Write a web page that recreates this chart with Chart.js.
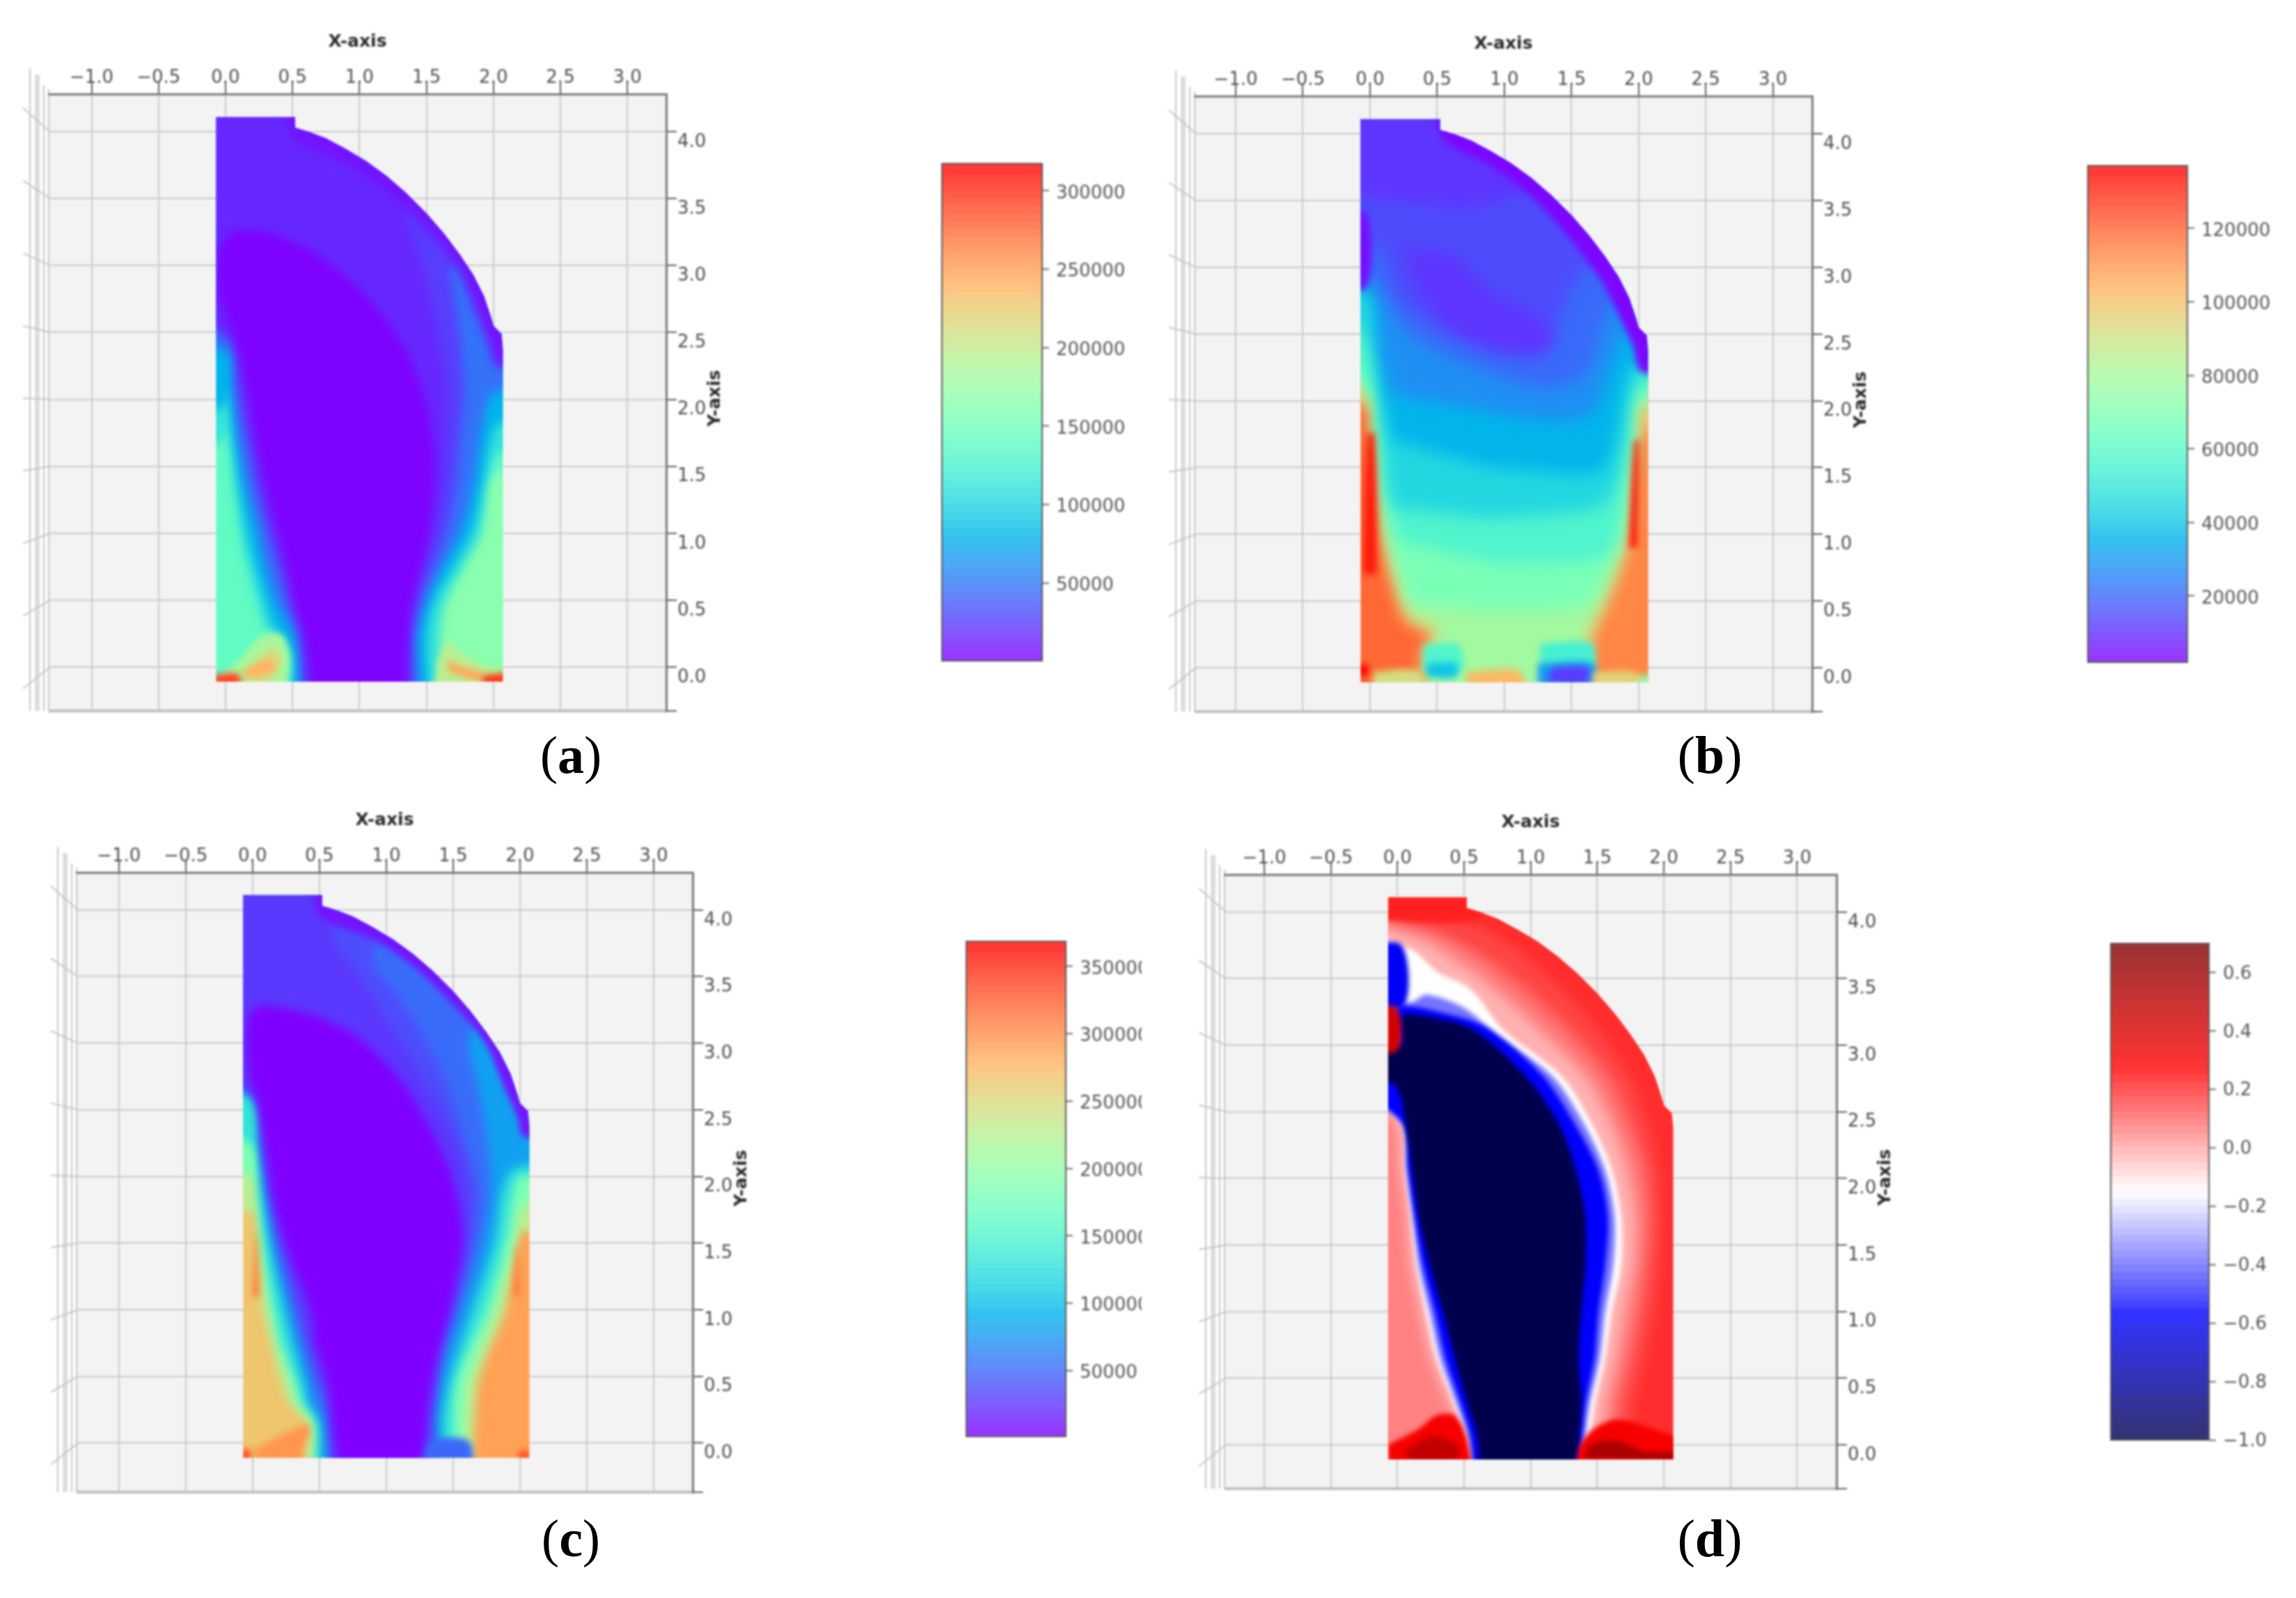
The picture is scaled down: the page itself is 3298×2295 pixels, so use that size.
<!DOCTYPE html>
<html>
<head>
<meta charset="utf-8">
<script src="https://cdn.jsdelivr.net/npm/chart.js@4/dist/chart.umd.js"></script>
<style>
  html, body { margin: 0; background: #fff; }
  #page { position: relative; width: 3298px; height: 2295px; overflow: hidden; }
  #page canvas { position: absolute; filter: blur(1.5px); }
  .cap { position: absolute; width: 200px; text-align: center; font: 76px "Liberation Serif", serif; color: #000; }
</style>
</head>
<body>
<div id="page"></div>
<script>
// axis ticks
var xTicks = [-1, -0.5, 0, 0.5, 1, 1.5, 2, 2.5, 3];
var yTicks = [0, 0.5, 1, 1.5, 2, 2.5, 3, 3.5, 4];

// outline of the body, data units
var domeX = [-0.07, 0.52, 0.52, 0.62, 0.75, 0.90, 1.05, 1.20, 1.35, 1.50, 1.63, 1.75, 1.85, 1.93, 1.98, 2.00, 2.06, 2.07, 2.07, -0.07];
var domeY = [4.11, 4.11, 4.03, 4.00, 3.95, 3.87, 3.78, 3.67, 3.54, 3.39, 3.24, 3.08, 2.93, 2.77, 2.62, 2.55, 2.49, 2.38, -0.11, -0.11];

// field levels, each value goes with a contour region [x,y,x,y...], painted in order
var aValues = [140000, 165000, 111000, 79000, 47000, 25000, 16000, 1000, 8000, 184000, 215000, 240000, 290000, 197000, 245000, 295000];
var aShapes = [
  [-.5,-.5, 2.5,-.5, 2.5,4.5, -.5,4.5],
  [1.5,-.5, 2.5,-.5, 2.5,1.4, 1.95,1.4, 1.5,.5],
  [.47,-.3, .47,.1, .30,.3, .24,.48, .15,.8, .11,1.01, .06,1.36, .03,1.7, .015,1.95, -.02,1.7, -.3,1.6, -.3,4.5, 2.4,4.5, 2.4,1.55, 2.04,1.6, 1.99,1.5, 1.95,1.36, 1.91,1.01, 1.78,.75, 1.64,.48, 1.60,.2, 1.60,-.3],
  [.50,-.3, .50,.1, .36,.3, .30,.48, .21,.8, .16,1.01, .10,1.36, .06,1.7, .035,1.9, .02,2.07, -.02,1.95, -.3,1.9, -.3,4.5, 2.4,4.5, 2.4,1.85, 2.04,1.82, 1.98,1.7, 1.92,1.36, 1.84,1.01, 1.70,.75, 1.55,.48, 1.50,.2, 1.53,-.3],
  [.55,-.3, .52,.2, .38,.48, .28,.8, .24,1.01, .15,1.36, .09,1.7, .05,2.07, .02,2.35, -.3,2.45, -.3,4.5, 2.4,4.5, 2.4,2.15, 2.0,2.05, 1.92,1.8, 1.85,1.36, 1.76,1.01, 1.62,.75, 1.50,.48, 1.44,.2, 1.47,-.3],
  [.60,-.3, .57,.2, .47,.48, .37,.8, .31,1.01, .22,1.36, .15,1.7, .09,2.07, .05,2.42, -.3,2.75, -.3,4.5, 2.4,4.5, 2.4,3.2, 1.7,3.0, 1.72,2.7, 1.75,2.42, 1.78,2.07, 1.75,1.71, 1.72,1.36, 1.65,1.01, 1.55,.75, 1.44,.48, 1.38,.2, 1.40,-.3],
  [.62,-.3, .58,.2, .50,.48, .42,.8, .36,1.01, .27,1.36, .2,1.7, .13,2.07, .06,2.42, -.3,2.75, -.3,4.5, 1.2,4.5, 1.35,3.4, 1.5,2.9, 1.6,2.4, 1.65,2.07, 1.65,1.71, 1.62,1.36, 1.56,1.01, 1.47,.75, 1.40,.48, 1.36,.2, 1.37,-.3],
  [.66,-.3, .60,.2, .52,.48, .45,.8, .39,1.01, .30,1.36, .23,1.7, .16,2.07, .08,2.42, -.05,2.8, -.05,3.1, .05,3.25, .3,3.25, .65,3.1, .97,2.85, 1.23,2.55, 1.40,2.25, 1.5,1.96, 1.56,1.55, 1.52,1.0, 1.40,.5, 1.36,.2, 1.35,-.3],
  [.45,4.3, .5,3.96, .9,3.76, 1.2,3.56, 1.5,3.27, 1.72,3.0, 1.87,2.65, 1.97,2.4, 2.03,2.25, 2.4,2.25, 2.4,4.3],
  [-.02,-.05, .1,.05, .2,.17, .3,.25, .42,.24, .47,.12, .47,-.05, .37,-.3, -.02,-.3],
  [.17,-.02, .28,.1, .37,.14, .42,.06, .38,-.04, .3,-.12, .17,-.12],
  [.12,-.03, .33,.05, .37,-.02, .15,-.08],
  [-.1,-.06, .1,-.06, .1,-.3, -.1,-.3],
  [1.66,.2, 1.76,.1, 1.96,0, 2.2,-.06, 2.2,-.3, 1.58,-.3, 1.58,.04],
  [1.66,.05, 1.74,.01, 1.92,-.05, 1.92,-.11, 1.66,-.03],
  [1.92,-.06, 2.2,-.06, 2.2,-.3, 1.92,-.3]
];

var bValues = [119000, 113000, 99000, 79000, 68000, 57000, 45000, 36000, 27500, 20500, 15000, 11000, 11000, 3000, 4000, 133000, 133000, 57000, 40000, 54000, 30000, 12000, 102000, 92000, 137000, 95000, 75000];
var bShapes = [
  [-.5,-.5, 2.5,-.5, 2.5,4.5, -.5,4.5],
  [1.0,-.5, 2.5,-.5, 2.5,2.0, 1.0,2.0],
  [.40,-.3, .40,.12, .48,.24, .27,.35, .16,.67, .09,1.0, .05,1.37, .02,1.72, -.02,1.95, -.3,2.0, -.3,4.5, 2.4,4.5, 2.4,1.85, 2.03,1.75, 1.99,1.6, 1.97,1.37, 1.94,1.0, 1.84,.67, 1.71,.35, 1.66,.24, 1.63,.1, 1.63,-.3],
  [.42,-.3, .42,.12, .50,.28, .31,.38, .2,.67, .12,1.0, .08,1.37, .05,1.72, .02,2.0, -.3,2.3, -.3,4.5, 2.4,4.5, 2.4,2.0, 2.0,1.95, 1.96,1.72, 1.93,1.37, 1.90,1.0, 1.80,.67, 1.68,.38, 1.63,.28, 1.6,.1, 1.6,-.3],
  [.3,.48, .2,.78, .14,1.0, .1,1.37, .07,1.72, .04,2.0, -.3,2.5, -.3,4.5, 2.4,4.5, 2.4,2.1, 1.98,2.0, 1.95,1.72, 1.91,1.37, 1.87,1.0, 1.76,.72, 1.62,.48, .95,.42],
  [.22,.95, .14,1.2, .1,1.5, .07,1.8, .05,2.05, -.3,2.55, -.3,4.5, 2.4,4.5, 2.4,2.15, 1.96,2.05, 1.93,1.72, 1.89,1.37, 1.84,1.0, 1.72,.82, .95,.78],
  [.18,1.2, .13,1.37, .10,1.72, .08,2.0, .03,2.4, -.3,2.8, -.3,4.5, 2.4,4.5, 2.4,2.25, 2.0,2.2, 1.93,2.0, 1.89,1.72, 1.83,1.37, 1.7,1.2, .9,1.12],
  [.17,1.7, .1,2.0, .05,2.4, 0,2.8, -.3,2.95, -.3,4.5, 2.4,4.5, 2.4,2.4, 1.95,2.25, 1.88,2.0, 1.83,1.72, 1.75,1.5, 1.6,1.45, .9,1.5],
  [.16,2.05, .08,2.4, .03,2.8, -.3,3.05, -.3,4.5, 2.4,4.5, 2.4,2.6, 1.95,2.55, 1.88,2.45, 1.78,2.2, 1.65,1.9, 1.3,1.85, .7,1.95],
  [.05,2.9, .3,2.5, .8,2.25, 1.3,2.1, 1.6,2.2, 1.72,2.5, 1.83,2.75, 2.4,2.85, 2.4,4.5, -.3,4.5, -.3,3.0],
  [-.3,3.4, .1,3.1, .2,2.8, .5,2.55, .9,2.38, 1.25,2.35, 1.4,2.6, 1.5,2.85, 1.62,3.0, 2.4,3.2, 2.4,4.5, -.3,4.5],
  [.25,3.15, .6,3.1, .9,2.82, 1.3,2.58, 1.35,2.4, 1.0,2.38, .6,2.55, .35,2.85],
  [-.3,3.55, .25,3.5, .7,3.45, 1.1,3.55, 1.3,3.7, 1.45,3.8, 1.45,4.5, -.3,4.5],
  [.45,4.3, .55,3.96, .9,3.76, 1.2,3.53, 1.5,3.2, 1.72,2.9, 1.87,2.6, 1.96,2.4, 2.02,2.22, 2.4,2.22, 2.4,4.3],
  [-.3,3.4, -.03,3.4, -.03,2.85, -.3,2.85],
  [-.05,.7, -.02,1.75, .03,1.75, .05,.7],
  [1.93,.9, 1.97,1.7, 2.0,1.7, 1.99,.9],
  [.40,.17, .66,.17, .68,-.02, .40,-.02],
  [.42,.03, .64,.03, .64,-.07, .42,-.07],
  [1.27,.18, 1.65,.18, 1.65,-.03, 1.27,-.03],
  [1.25,.03, 1.66,.03, 1.66,-.13, 1.25,-.13],
  [1.35,0, 1.62,0, 1.62,-.11, 1.32,-.11],
  [.72,-.03, 1.12,-.03, 1.12,-.3, .72,-.3],
  [.02,-.03, .37,-.03, .37,-.3, .02,-.3],
  [-.1,.02, -.02,.02, -.02,-.06, -.1,-.06],
  [1.66,-.03, 2.0,-.05, 2.0,-.3, 1.66,-.3],
  [2.0,-.06, 2.2,-.06, 2.2,-.3, 2.0,-.3]
];

var cValues = [265000, 288000, 228000, 184000, 129000, 81000, 52000, 37000, 27000, 1000, 10000, 50000, 295000, 330000, 330000, 310000, 310000];
var cShapes = [
  [-.5,-.5, 2.5,-.5, 2.5,4.5, -.5,4.5],
  [1.5,-.5, 2.5,-.5, 2.5,2.0, 1.9,1.6, 1.5,.5],
  [.38,-.3, .40,.15, .27,.3, .21,.46, .14,.75, .08,.99, .05,1.3, .04,1.55, .02,1.72, -.3,1.8, -.3,4.5, 2.4,4.5, 2.4,1.62, 2.0,1.58, 1.98,1.5, 1.89,.99, 1.78,.72, 1.69,.46, 1.66,.15, 1.64,-.3],
  [.44,-.3, .46,.15, .33,.3, .28,.46, .19,.75, .13,.99, .09,1.3, .06,1.55, .04,1.87, 0,2.0, -.3,2.1, -.3,4.5, 2.4,4.5, 2.4,1.85, 2.02,1.78, 1.96,1.52, 1.81,.99, 1.70,.72, 1.61,.46, 1.58,.15, 1.6,-.3],
  [.47,-.3, .49,.15, .38,.3, .33,.46, .22,.75, .17,.99, .11,1.3, .085,1.55, .05,1.87, .02,2.22, -.3,2.4, -.3,4.5, 2.4,4.5, 2.4,2.02, 2.0,2.0, 1.95,1.87, 1.89,1.52, 1.74,.99, 1.62,.72, 1.52,.46, 1.50,.15, 1.52,-.3],
  [.50,-.3, .5,.15, .42,.3, .38,.46, .30,.75, .24,.99, .17,1.3, .12,1.55, .08,1.87, .05,2.22, .02,2.58, -.3,2.75, -.3,4.5, 2.4,4.5, 2.4,2.2, 1.95,2.05, 1.86,1.87, 1.81,1.52, 1.64,.99, 1.55,.72, 1.47,.46, 1.42,.15, 1.45,-.3],
  [.58,-.3, .55,.15, .47,.3, .44,.46, .36,.75, .30,.99, .22,1.3, .16,1.55, .11,1.87, .07,2.22, .03,2.58, -.3,2.8, -.3,4.5, 2.4,4.5, 2.4,3.3, 1.75,3.3, 1.62,3.0, 1.70,2.6, 1.76,2.2, 1.78,1.87, 1.72,1.52, 1.56,.99, 1.47,.72, 1.40,.46, 1.36,.15, 1.38,-.3],
  [.6,-.3, .56,.3, .49,.46, .40,.75, .34,.99, .25,1.3, .19,1.55, .13,1.87, .08,2.22, .04,2.58, -.3,2.85, -.3,4.5, 1.0,4.5, .9,3.6, 1.05,3.4, 1.25,3.1, 1.45,2.7, 1.6,2.2, 1.68,1.87, 1.65,1.52, 1.50,.99, 1.41,.72, 1.37,.46, 1.34,.15, 1.36,-.3],
  [.62,-.3, .58,.3, .52,.46, .43,.75, .36,.99, .28,1.3, .21,1.55, .15,1.87, .09,2.22, .05,2.58, -.3,2.85, -.3,4.5, .6,4.5, .6,3.8, .8,3.5, 1.05,3.1, 1.3,2.7, 1.55,2.2, 1.62,1.87, 1.6,1.52, 1.49,.99, 1.39,.72, 1.36,.46, 1.32,.15, 1.34,-.3],
  [.66,-.3, .6,.15, .56,.46, .47,.75, .44,.99, .32,1.3, .23,1.55, .15,1.87, .10,2.22, .03,2.58, -.03,2.8, -.03,3.2, .05,3.28, .18,3.27, .48,3.2, .81,3.03, 1.14,2.68, 1.38,2.26, 1.5,1.96, 1.57,1.6, 1.56,1.4, 1.47,.99, 1.34,.46, 1.3,.15, 1.25,-.3],
  [.45,4.3, .5,3.96, .9,3.78, 1.2,3.58, 1.5,3.29, 1.74,3.0, 1.89,2.65, 1.98,2.45, 2.03,2.3, 2.4,2.3, 2.4,4.3],
  [1.25,-.3, 1.3,-.03, 1.36,.03, 1.62,.01, 1.65,-.3],
  [.01,-.05, .2,.05, .41,.14, .43,.1, .38,-.05, .35,-.3, .05,-.3],
  [-.1,-.05, -.02,-.05, -.02,-.3, -.1,-.3],
  [1.99,-.06, 2.07,-.06, 2.07,-.3, 1.99,-.3],
  [0,1.1, .03,1.6, .05,1.1],
  [1.95,1.1, 1.98,1.5, 2.0,1.1]
];

var dValues = [0.2, 0.16, 0.1, 0.06, -0.02, -0.15, -0.38, -0.58, -1, 0.22, -0.6, 0.42, 0.3, 0.48, 0.3, 0.55];
var dShapes = [
  [-.5,-.5, 2.5,-.5, 2.5,4.5, -.5,4.5],
  [1.75,-.3, 1.78,.29, 1.86,.65, 1.93,1.0, 1.97,1.35, 1.98,1.71, 1.96,2.06, 1.88,2.41, 1.74,2.77, 1.5,3.12, 1.2,3.45, .85,3.75, .5,3.93, -.3,3.98, -.3,-.3],
  [1.68,-.3, 1.68,.29, 1.76,.65, 1.83,1.0, 1.88,1.35, 1.90,1.71, 1.87,2.06, 1.76,2.41, 1.60,2.77, 1.30,3.12, .95,3.45, .6,3.7, .2,3.88, -.3,3.92, -.3,-.3],
  [1.62,-.3, 1.62,.29, 1.70,.65, 1.77,1.0, 1.82,1.35, 1.84,1.71, 1.80,2.06, 1.68,2.41, 1.5,2.77, 1.18,3.12, .82,3.45, .5,3.7, .15,3.85, -.3,3.88, -.3,-.3],
  [.52,-.3, .47,.05, .38,.29, .24,.65, .16,1.0, .09,1.35, .06,1.71, .01,2.06, -.02,2.41, -.3,2.7, -.3,3.85, .15,3.8, .45,3.62, .72,3.42, 1.05,3.12, 1.4,2.77, 1.6,2.41, 1.72,2.06, 1.78,1.71, 1.77,1.35, 1.70,1.0, 1.64,.65, 1.56,.29, 1.54,-.3],
  [.55,-.3, .5,.05, .43,.29, .29,.65, .21,1.0, .14,1.35, .10,1.71, .06,2.06, .03,2.41, -.3,2.75, -.3,3.8, .1,3.72, .3,3.55, .55,3.42, .79,3.12, 1.23,2.77, 1.46,2.41, 1.61,2.06, 1.68,1.71, 1.68,1.35, 1.61,1.0, 1.56,.65, 1.48,.29, 1.4,-.3],
  [.57,-.3, .53,.05, .45,.29, .32,.65, .24,1.0, .16,1.35, .115,1.71, .07,2.06, .035,2.41, -.3,2.72, -.3,3.3, .1,3.32, .22,3.38, .5,3.28, .74,3.08, 1.16,2.77, 1.40,2.41, 1.56,2.06, 1.63,1.71, 1.62,1.35, 1.56,1.0, 1.52,.65, 1.44,.29, 1.37,-.3],
  [.58,-.3, .55,.05, .48,.29, .36,.65, .28,1.0, .19,1.35, .13,1.71, .08,2.06, .04,2.41, -.3,2.7, -.3,3.0, 0,3.0, 0,3.28, .39,3.23, .69,3.12, 1.09,2.77, 1.33,2.41, 1.51,2.06, 1.58,1.71, 1.56,1.35, 1.51,1.0, 1.48,.65, 1.41,.29, 1.35,-.3],
  [.62,-.3, .6,.05, .53,.29, .43,.65, .34,1.0, .24,1.35, .16,1.71, .11,2.06, .06,2.41, -.02,2.7, -.3,2.75, -.3,2.95, .02,3.0, .04,3.22, .19,3.22, .56,3.12, .96,2.77, 1.21,2.41, 1.34,2.06, 1.41,1.71, 1.41,1.35, 1.38,1.0, 1.36,.65, 1.38,.29, 1.33,-.3],
  [-.3,3.95, .6,3.95, .6,4.3, -.3,4.3],
  [-.3,3.75, .03,3.75, .05,3.3, -.3,3.3],
  [-.3,3.28, -.01,3.28, 0,2.96, -.3,2.96],
  [-.07,0, .16,.12, .29,.22, .43,.22, .53,.01, .53,-.3, -.07,-.3],
  [.05,-.05, .25,.06, .45,0, .45,-.1, .1,-.12],
  [1.34,-.3, 1.36,-.03, 1.46,.11, 1.63,.19, 1.83,.15, 2.2,-.02, 2.2,-.3],
  [1.4,-.1, 1.45,0, 1.65,.03, 1.85,-.05, 2.2,-.06, 2.2,-.12]
];

// colour bar steps
var barA = [300, 5000, 10000, 15000, 20000, 25000, 30000, 35000, 40000, 45000, 50000, 55000, 60000, 65000, 70000, 75000, 80000, 85000, 90000, 95000, 100000, 105000, 110000, 115000, 120000, 125000, 130000, 135000, 140000, 145000, 150000, 155000, 160000, 165000, 170000, 175000, 180000, 185000, 190000, 195000, 200000, 205000, 210000, 215000, 220000, 225000, 230000, 235000, 240000, 245000, 250000, 255000, 260000, 265000, 270000, 275000, 280000, 285000, 290000, 295000, 300000, 305000, 310000, 317300];
var barB = [2000, 4000, 6000, 8000, 10000, 12000, 14000, 16000, 18000, 20000, 22000, 24000, 26000, 28000, 30000, 32000, 34000, 36000, 38000, 40000, 42000, 44000, 46000, 48000, 50000, 52000, 54000, 56000, 58000, 60000, 62000, 64000, 66000, 68000, 70000, 72000, 74000, 76000, 78000, 80000, 82000, 84000, 86000, 88000, 90000, 92000, 94000, 96000, 98000, 100000, 102000, 104000, 106000, 108000, 110000, 112000, 114000, 116000, 118000, 120000, 122000, 124000, 126000, 128000, 130000, 132000, 134000, 137000];
var barC = [1000, 6000, 12000, 18000, 24000, 30000, 36000, 42000, 48000, 54000, 60000, 66000, 72000, 78000, 84000, 90000, 96000, 102000, 108000, 114000, 120000, 126000, 132000, 138000, 144000, 150000, 156000, 162000, 168000, 174000, 180000, 186000, 192000, 198000, 204000, 210000, 216000, 222000, 228000, 234000, 240000, 246000, 252000, 258000, 264000, 270000, 276000, 282000, 288000, 294000, 300000, 306000, 312000, 318000, 324000, 330000, 336000, 342000, 348000, 354000, 360000, 368600];
var barD = [-1, -0.95, -0.9, -0.85, -0.8, -0.75, -0.7, -0.65, -0.6, -0.55, -0.525, -0.5, -0.475, -0.45, -0.425, -0.4, -0.375, -0.35, -0.325, -0.3, -0.275, -0.25, -0.225, -0.2, -0.175, -0.15, -0.125, -0.1, -0.075, -0.05, -0.025, 0, 0.025, 0.05, 0.075, 0.1, 0.125, 0.15, 0.175, 0.2, 0.225, 0.25, 0.275, 0.3, 0.35, 0.4, 0.45, 0.5, 0.55, 0.6, 0.65, 0.7];
var barTicksA = [50000, 100000, 150000, 200000, 250000, 300000];
var barTicksB = [20000, 40000, 60000, 80000, 100000, 120000];
var barTicksC = [50000, 100000, 150000, 200000, 250000, 300000, 350000];
var barTicksD = [-1, -0.8, -0.6, -0.4, -0.2, 0, 0.2, 0.4, 0.6];

function rainbow(t, a) {
  var r = Math.abs(2 * t - 0.5), g = Math.sin(Math.PI * t), b = Math.cos(Math.PI * t / 2);
  return mix(r, g, b, a);
}
function seismic(t, a) {
  var stops = [[0, 0, 0, .3], [.25, 0, 0, 1], [.5, 1, 1, 1], [.75, 1, 0, 0], [1, .5, 0, 0]];
  for (var i = 0; i < 3 && t > stops[i + 1][0]; i++);
  var k = Math.max(0, Math.min(1, (t - stops[i][0]) / .25));
  var s = stops[i], e = stops[i + 1];
  return mix(s[1] + (e[1] - s[1]) * k, s[2] + (e[2] - s[2]) * k, s[3] + (e[3] - s[3]) * k, a);
}
// colour blended over white so the bar steps have no seams
function mix(r, g, b, a) {
  function c(v) { return Math.round((v * a + 1 - a) * 255); }
  return 'rgb(' + c(r) + ',' + c(g) + ',' + c(b) + ')';
}
function minusText(v, d) {
  return v.toFixed(d).replace('-', '\u2212');
}
function addCanvas(left, top, w, h) {
  var cv = document.createElement('canvas');
  cv.width = w; cv.height = h;
  cv.style.left = left + 'px'; cv.style.top = top + 'px';
  cv.style.width = w + 'px'; cv.style.height = h + 'px';
  document.getElementById('page').appendChild(cv);
  return cv;
}

function makePanel(o) {
  var l = o.box[0], t = o.box[1], r = o.box[2], b = o.box[3];
  var cv = addCanvas(l - 70, t - 135, r - l + 170, b - t + 155);

  var decor = {
    id: 'decor',
    beforeDraw: function (chart) {
      var ctx = chart.ctx, a = chart.chartArea, y = chart.scales.y;
      ctx.save();
      ctx.fillStyle = '#f3f3f3';
      ctx.fillRect(a.left, a.top, a.right - a.left, a.bottom - a.top);
      // side wall of the 3d box
      ctx.fillStyle = '#dcdcdc';
      ctx.fillRect(a.left - 20, a.top - 28, 7, a.bottom - a.top + 28);
      ctx.strokeStyle = '#c4c4c4';
      ctx.lineWidth = 2;
      [[-27, -37], [-7, -13], [0, -7]].forEach(function (w) {
        ctx.beginPath();
        ctx.moveTo(a.left + w[0], a.top + w[1]);
        ctx.lineTo(a.left + w[0], a.bottom);
        ctx.stroke();
      });
      var mid = y.getPixelForValue(1.9);
      yTicks.forEach(function (v) {
        var p = y.getPixelForValue(v);
        ctx.beginPath();
        ctx.moveTo(a.left + 2, p);
        ctx.lineTo(a.left - 37, p + (p - mid) * 0.085);
        ctx.stroke();
      });
      ctx.restore();
    },
    beforeDatasetsDraw: function (chart) {
      var ctx = chart.ctx, sx = chart.scales.x, sy = chart.scales.y;
      ctx.save();
      ctx.beginPath();
      domeX.forEach(function (v, i) {
        var px = sx.getPixelForValue(v), py = sy.getPixelForValue(domeY[i]);
        if (i === 0) ctx.moveTo(px, py); else ctx.lineTo(px, py);
      });
      ctx.closePath();
      ctx.clip();
      ctx.filter = 'blur(' + o.blur + 'px)';
    },
    afterDatasetDraw: function (chart, args) {
      // the small spots at the end of a list stay sharper than the broad bands
      if (args.index + 1 >= o.sharpFrom) chart.ctx.filter = 'blur(' + o.sharp + 'px)';
    },
    afterDatasetsDraw: function (chart) {
      chart.ctx.restore();
    },
    afterDraw: function (chart) {
      var ctx = chart.ctx, a = chart.chartArea;
      ctx.save();
      ctx.translate(a.right + 70, (a.top + a.bottom) / 2 - 6);
      ctx.rotate(-Math.PI / 2);
      ctx.font = 'bold 25px "DejaVu Sans"';
      ctx.fillStyle = '#2a2a2a';
      ctx.textAlign = 'center';
      ctx.textBaseline = 'middle';
      ctx.fillText('Y-axis', 0, 0);
      ctx.restore();
    }
  };

  var sets = o.values.map(function (v, i) {
    var pts = [];
    for (var k = 0; k < o.shapes[i].length; k += 2) pts.push({ x: o.shapes[i][k], y: o.shapes[i][k + 1] });
    return {
      data: pts, showLine: true, fill: 'shape', tension: 0.3, borderWidth: 0, pointRadius: 0, order: -i,
      backgroundColor: o.map((v - o.vmin) / (o.vmax - o.vmin), 1)
    };
  });

  new Chart(cv, {
    type: 'scatter',
    data: { datasets: sets },
    plugins: [decor],
    options: {
      responsive: false, animation: false, devicePixelRatio: 1, events: [],
      layout: { padding: { left: 70, right: 0, top: 0, bottom: 20 } },
      plugins: { legend: { display: false }, tooltip: { enabled: false } },
      scales: {
        x: {
          type: 'linear', position: 'top', min: o.x[0], max: o.x[1],
          afterBuildTicks: function (s) { s.ticks = xTicks.map(function (v) { return { value: v }; }); },
          afterFit: function (s) { s.height = 135; s.paddingLeft = 0; s.paddingRight = 0; },
          title: { display: true, text: 'X-axis', color: '#2a2a2a', font: { family: 'DejaVu Sans', size: 25, weight: 'bold' }, padding: { top: 45, bottom: 0 } },
          grid: { color: '#c8c8c8', lineWidth: 2, tickLength: 17, tickColor: '#555', tickWidth: 2 },
          border: { color: '#757575', width: 3 },
          ticks: {
            autoSkip: false, maxRotation: 0, padding: -10, color: '#4c4c4c',
            font: { family: 'DejaVu Sans', size: 26 },
            callback: function (v) { return minusText(v, 1); }
          }
        },
        y: {
          type: 'linear', position: 'right', min: o.y[0], max: o.y[1],
          afterBuildTicks: function (s) {
            s.ticks = yTicks.concat([o.y[0]]).sort(function (p, q) { return p - q; }).map(function (v) { return { value: v }; });
          },
          afterFit: function (s) { s.width = 100; s.paddingTop = 0; s.paddingBottom = 0; },
          grid: {
            color: function (c) { return c.tick && c.tick.value === o.y[0] ? '#bdbdbd' : '#c8c8c8'; },
            lineWidth: function (c) { return c.tick && c.tick.value === o.y[0] ? 4 : 2; },
            tickLength: 15, tickColor: '#555', tickWidth: 2
          },
          border: { color: '#757575', width: 3 },
          ticks: {
            autoSkip: false, padding: 1, labelOffset: 15, color: '#4c4c4c',
            font: { family: 'DejaVu Sans', size: 26 },
            callback: function (v) { return yTicks.indexOf(v) < 0 ? '' : minusText(v, 1); }
          }
        }
      }
    }
  });
}

function makeBar(o) {
  var l = o.box[0], t = o.box[1], r = o.box[2], b = o.box[3];
  var cv = addCanvas(l - 5, t - 15, o.clip - l + 5, b - t + 30);
  var lo = o.steps[0], hi = o.steps[o.steps.length - 1];

  var frame = {
    id: 'frame',
    afterDraw: function (chart) {
      var ctx = chart.ctx, a = chart.chartArea;
      ctx.save();
      ctx.strokeStyle = '#555';
      ctx.lineWidth = 2;
      ctx.strokeRect(a.left, a.top, a.right - a.left, a.bottom - a.top);
      ctx.restore();
    }
  };

  var sets = [];
  for (var i = 0; i < o.steps.length - 1; i++) {
    sets.push({
      data: [[o.steps[i], o.steps[i + 1]]], grouped: false, barPercentage: 1, categoryPercentage: 1, borderWidth: 0,
      backgroundColor: o.map(((o.steps[i] + o.steps[i + 1]) / 2 - lo) / (hi - lo), 0.8)
    });
  }

  new Chart(cv, {
    type: 'bar',
    data: { labels: [''], datasets: sets },
    plugins: [frame],
    options: {
      responsive: false, animation: false, devicePixelRatio: 1, events: [],
      layout: { padding: { left: 5, right: 0, top: 15, bottom: 15 } },
      plugins: { legend: { display: false }, tooltip: { enabled: false } },
      scales: {
        x: { display: false },
        y: {
          type: 'linear', position: 'right', min: lo, max: hi,
          afterBuildTicks: function (s) { s.ticks = o.ticks.map(function (v) { return { value: v }; }); },
          afterFit: function (s) { s.width = o.clip - r; s.paddingTop = 0; s.paddingBottom = 0; },
          grid: { drawOnChartArea: false, tickLength: 10, tickColor: '#666', tickWidth: 2 },
          border: { color: '#555', width: 2 },
          ticks: {
            autoSkip: false, padding: 10, labelOffset: o.digits ? 2 : 4, color: '#555',
            font: { family: 'DejaVu Sans', size: 26 },
            callback: function (v) { return o.digits ? minusText(v, o.digits) : String(v); }
          }
        }
      }
    }
  });
}

function addCaption(letter, cx, top) {
  var d = document.createElement('div');
  d.className = 'cap';
  d.style.left = (cx - 100) + 'px';
  d.style.top = top + 'px';
  d.innerHTML = '(<b>' + letter + '</b>)';
  document.getElementById('page').appendChild(d);
}

makePanel({ box: [70, 135, 957, 1021], x: [-1.32, 3.29], y: [-0.328, 4.282], values: aValues, shapes: aShapes, map: rainbow, vmin: 300, vmax: 317300, blur: 7, sharpFrom: 9, sharp: 4 });
makePanel({ box: [1716, 138, 2603, 1022], x: [-1.306, 3.292], y: [-0.329, 4.283], values: bValues, shapes: bShapes, map: rainbow, vmin: 2000, vmax: 137000, blur: 11, sharpFrom: 13, sharp: 5 });
makePanel({ box: [110, 1253, 995, 2143], x: [-1.316, 3.292], y: [-0.369, 4.281], values: cValues, shapes: cShapes, map: rainbow, vmin: 1000, vmax: 368600, blur: 7, sharpFrom: 10, sharp: 4 });
makePanel({ box: [1759, 1256, 2638, 2138], x: [-1.298, 3.296], y: [-0.329, 4.281], values: dValues, shapes: dShapes, map: seismic, vmin: -1, vmax: 0.7, blur: 8, sharpFrom: 5, sharp: 3 });

makeBar({ box: [1353, 235, 1497, 949], clip: 1640, steps: barA, ticks: barTicksA, map: rainbow });
makeBar({ box: [2999, 238, 3142, 951], clip: 3290, steps: barB, ticks: barTicksB, map: rainbow });
makeBar({ box: [1388, 1352, 1531, 2063], clip: 1640, steps: barC, ticks: barTicksC, map: rainbow });
makeBar({ box: [3032, 1355, 3173, 2068], clip: 3298, steps: barD, ticks: barTicksD, map: seismic, digits: 1 });

addCaption('a', 820, 1041);
addCaption('b', 2456, 1041);
addCaption('c', 820, 2166);
addCaption('d', 2456, 2166);
</script>
</body>
</html>
